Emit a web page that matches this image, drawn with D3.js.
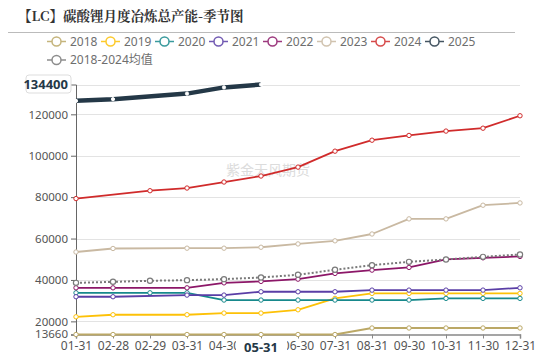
<!DOCTYPE html>
<html><head><meta charset="utf-8">
<script src="https://cdn.jsdelivr.net/npm/d3@7"></script>
<style>body{margin:0;background:#fff}svg{display:block;font-family:"Noto Sans","Noto Sans CJK SC",sans-serif}</style>
</head><body>
<svg id="c" width="550" height="355"></svg>
<script>
const categories = ["01-31","02-28","02-29","03-31","04-30","05-31","06-30","07-31","08-31","09-30","10-31","11-30","12-31"];
const seriesNames = ["2018","2019","2020","2021","2022","2023","2024","2025","2018-2024均值"];
const s2018 = [13660,13660,null,13660,13660,13660,13660,13660,16800,16800,16800,16800,16800];
const s2019 = [22200,23200,null,23200,24000,24000,25600,31100,33500,33500,33500,33500,33500];
const s2020 = [33800,null,33800,33800,30300,30300,30300,30300,30300,30300,31100,31100,31100];
const s2021 = [31900,31900,null,32700,32700,34300,34300,34300,35100,35100,35100,35100,36200];
const s2022 = [36200,36200,null,36200,38600,39300,40400,43150,44750,46050,49900,50700,51350];
const s2023 = [53500,55200,null,55350,55350,55800,57400,58900,62200,69500,69500,76100,77200];
const s2024 = [79300,null,83100,84400,87300,90200,94500,102200,107500,109800,111900,113300,119300];
const s2025 = [126500,127300,null,130000,133000,134400,null,null,null,null,null,null,null];
const sAvg  = [38600,39100,39600,39900,40400,41200,42500,44900,47150,48750,49900,51150,52300];
const yTicks = [13660,20000,40000,60000,80000,100000,120000];
const yMin = 13660, yMax = 134400;
const highlightCat = "05-31";

const colors = ["#bba866","#fdc107","#17898c","#5a3ea6","#8c1768","#c9b9a2","#d02b2b","#243847","#7a7a7a"];
const data = [s2018,s2019,s2020,s2021,s2022,s2023,s2024,s2025,sAvg];

const svg = d3.select("#c");
const L = 76, R = 520, T = 84.5, B = 334.5;
const x = d3.scalePoint().domain(categories).range([L,R]);
const y = d3.scaleLinear().domain([yMin,yMax]).range([B,T]);

// title
svg.append("text").attr("x",18).attr("y",21).attr("font-family","'Noto Serif CJK SC','Noto Sans CJK SC',serif")
  .attr("font-size",13.5).attr("font-weight","bold").attr("fill","#333").text("【LC】碳酸锂月度冶炼总产能-季节图");
svg.append("line").attr("x1",8).attr("x2",515).attr("y1",32.5).attr("y2",32.5).attr("stroke","#bbb").attr("stroke-width",1);

// legend
seriesNames.forEach((n,i)=>{
  const row = i<8?0:1, col = i<8?i:0;
  const lx = 47 + col*54, ly = row===0?41.5:60;
  const g = svg.append("g").attr("opacity",0.85);
  g.append("line").attr("x1",lx).attr("x2",lx+19).attr("y1",ly).attr("y2",ly).attr("stroke",colors[i]).attr("stroke-width",1.5);
  g.append("circle").attr("cx",lx+9.5).attr("cy",ly).attr("r",4.5).attr("fill","#fff").attr("stroke",colors[i]).attr("stroke-width",1.5);
  g.append("text").attr("x",lx+23).attr("y",ly+4.3).attr("font-size",12).attr("fill","#555").text(n);
});

// grid
const gridVals = yTicks.slice(1).concat([yMax]);
svg.append("g").selectAll("line").data(gridVals).join("line")
  .attr("x1",L).attr("x2",R).attr("y1",d=>Math.round(y(d))+0.5).attr("y2",d=>Math.round(y(d))+0.5)
  .attr("stroke","#e3e3e3").attr("stroke-width",1);

// watermark
svg.append("text").attr("x",268).attr("y",175).attr("text-anchor","middle").attr("font-size",14)
  .attr("fill","#dcdcdc").attr("font-family","'Noto Sans CJK SC',sans-serif").text("紫金天风期货");

// axes
const yAxis = d3.axisLeft(y).tickValues(yTicks).tickSize(5).tickPadding(3).tickFormat(d=>String(d));
const gy = svg.append("g").attr("transform",`translate(${L},0)`).call(yAxis);
gy.select(".domain").attr("stroke","#666");
gy.selectAll(".tick line").attr("stroke","#666");
gy.selectAll(".tick text").attr("font-size",11.5).attr("fill","#555").attr("font-family","'Noto Sans',sans-serif");
gy.selectAll(".tick text").filter(d=>d===yMin).attr("dy","0.25em");
gy.selectAll(".tick text").filter(d=>d===20000).attr("dy","0.4em");

const xAxis = d3.axisBottom(x).tickSize(4).tickPadding(3);
const gx = svg.append("g").attr("transform",`translate(0,${B})`).call(xAxis);
gx.select(".domain").attr("stroke","#888").attr("stroke-width",1.5);
gx.selectAll(".tick line").attr("stroke","#888");
gx.selectAll(".tick text").attr("font-size",12).attr("fill","#555").attr("font-family","'Noto Sans',sans-serif");

// series
const line = d3.line().x(d=>x(d.c)).y(d=>y(d.v));
const order = [0,1,2,3,4,5,6,8,7];
order.forEach(i=>{
  const pts = categories.map((c,k)=>({c,v:data[i][k]})).filter(d=>d.v!=null);
  const is25 = i===7, isAvg = i===8;
  svg.append("path").datum(pts).attr("d",line).attr("fill","none")
    .attr("stroke",colors[i]).attr("stroke-width",is25?4.5:(isAvg?2:1.8))
    .attr("stroke-dasharray",isAvg?"2,2":null).attr("stroke-linejoin","round");
  svg.append("g").selectAll("circle").data(pts).join("circle")
    .attr("cx",d=>x(d.c)).attr("cy",d=>y(d.v)).attr("r",isAvg?2.6:(is25?1.6:2.2))
    .attr("fill","#fff").attr("stroke",is25?"#fff":colors[i]).attr("stroke-width",isAvg?1.2:1);
});

// highlight labels (axis pointer)
const hy = svg.append("g");
hy.append("rect").attr("x",26).attr("y",75).attr("width",45).attr("height",18).attr("rx",3)
  .attr("fill","#fff").attr("stroke","#ddd");
hy.append("text").attr("x",68).attr("y",89).attr("text-anchor","end").attr("font-size",13).attr("font-weight","bold")
  .attr("fill","#243847").text(String(yMax));
const hx = svg.append("g");
const cx = x(highlightCat);
hx.append("rect").attr("x",cx-25).attr("y",B+5).attr("width",51).attr("height",17).attr("fill","#fff");
hx.append("text").attr("x",cx).attr("y",B+17.5).attr("text-anchor","middle").attr("font-size",13).attr("font-weight","bold")
  .attr("fill","#243847").text(highlightCat);
</script>
</body></html>
